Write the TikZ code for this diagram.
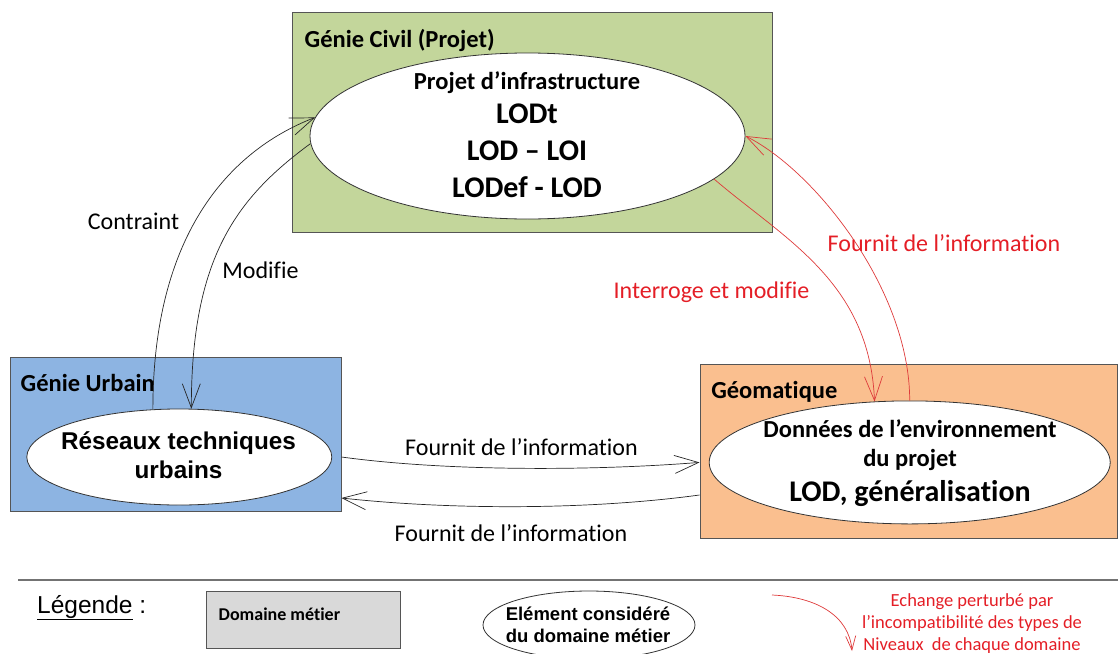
\documentclass[tikz,border=0pt]{standalone}
\usepackage{fontspec}
\setmainfont{Carlito}[Ligatures={TeX,NoCommon}]
\newfontfamily\arialfont{Liberation Sans}
\usetikzlibrary{arrows.meta,shapes.geometric,calc}
\definecolor{civilgreen}{RGB}{195,214,155}
\definecolor{urbanblue}{RGB}{141,180,226}
\definecolor{geoorange}{RGB}{250,191,143}
\definecolor{legendgray}{RGB}{217,217,217}
\definecolor{boxline}{RGB}{85,85,85}
\definecolor{redline}{RGB}{222,58,58}
\definecolor{redtext}{RGB}{228,30,38}
\tikzset{
  domaine/.style={draw=boxline, line width=1pt, inner sep=0pt},
  element/.style={draw=black!80, ellipse, fill=white, line width=0.8pt, inner sep=0pt},
  titre/.style={anchor=west, inner sep=0pt, font=\fontsize{24.5}{29}\selectfont\bfseries},
  etiq/.style={inner sep=0pt, font=\fontsize{24}{29}\selectfont},
  lien/.style={-{Straight Barb[length=24pt,width=18pt]}, line width=0.7pt, black!85},
  lienrouge/.style={lien, draw=redline}
}

\begin{document}
\begin{tikzpicture}[x=1pt, y=-1pt]
  \useasboundingbox (0,0) rectangle (1118,653);
  % domaines
  \node[domaine, fill=civilgreen, minimum width=480pt, minimum height=220pt] (civBox) at (532,122) {};
  \node[domaine, fill=urbanblue, minimum width=331pt, minimum height=154pt] (urbBox) at (175.5,434) {};
  \node[domaine, fill=geoorange, minimum width=417pt, minimum height=174pt] (geoBox) at (908.5,451) {};
  \node[titre] (civTitle) at ([xshift=13pt, yshift=-29pt]civBox.north west) {Génie Civil (Projet)};
  \node[titre] (urbTitle) at ([xshift=11pt, yshift=-26pt]urbBox.north west) {Génie Urbain};
  \node[titre] (geoTitle) at ([xshift=11.6pt, yshift=-28pt]geoBox.north west) {Géomatique};
  % elements
  \node[element, minimum width=435pt, minimum height=166pt] (civEll) at (527.5,136) {};
  \node[element, minimum width=305pt, minimum height=96pt] (urbEll) at (179.3,457) {};
  \node[element, minimum width=401pt, minimum height=123pt] (geoEll) at (909.7,462.4) {};
  \node[align=center, inner sep=0pt, font=\fontsize{30}{37}\selectfont\bfseries] (civTxt) at (527,134.5)
    {{\fontsize{24.5}{29}\selectfont Projet d’infrastructure}\\[-2.5pt] LODt\\ LOD – LOI\\ LODef - LOD};
  \node[align=center, inner sep=0pt, font=\arialfont\fontsize{24.3}{29}\selectfont\bfseries] (urbTxt) at (178.5,455.5)
    {Réseaux techniques\\ urbains};
  \node[align=center, inner sep=0pt, font=\fontsize{24.5}{28.5}\selectfont\bfseries] (geoTxt) at (910,463)
    {Données de l’environnement\\ du projet\\[6.5pt] {\fontsize{30}{36}\selectfont LOD, généralisation}};
  % liens
  \draw[lien] (urbEll.119) .. controls +(0,-170) and +(-90,35) .. (civEll.175);
  \draw[lien] (civEll.182) .. controls +(-75,55) and +(0,-150) .. (urbEll.76);
  \draw[lienrouge] (civEll.347) .. controls +(70,60) and +(-5,-120) .. (geoEll.120);
  \draw[lienrouge] (geoEll.90) .. controls +(0,-110) and +(70,35) .. (civEll.0);
  \draw[lien] (urbBox.east |- urbEll.center) .. controls +(110,15) and +(-100,8) .. (geoBox.west |- geoEll.center);
  \draw[lien] ([yshift=-44pt]geoBox.west) .. controls +(-110,15) and +(110,12) .. ([yshift=-64pt]urbBox.east);
  \node[etiq] (lblContraint) at (133.5,221) {Contraint};
  \node[etiq] (lblModifie) at (260.5,270) {Modifie};
  \node[etiq, text=redtext] (lblFournitRouge) at (944,243.6) {Fournit de l’information};
  \node[etiq, text=redtext] (lblInterroge) at (711.5,292) {Interroge et modifie};
  \node[etiq] (lblFournitHaut) at (521.5,447) {Fournit de l’information};
  \node[etiq] (lblFournitBas) at (511,533) {Fournit de l’information};
  % legende
  \coordinate (sepA) at (18,580);
  \coordinate (sepB) at (1118,580);
  \draw[line width=1.5pt, black!55] (sepA) -- (sepB);
  \node[anchor=base west, inner sep=0pt, font=\arialfont\fontsize{24.5}{29}\selectfont] (legTitle) at (37,613) {\underline{Légende} :};
  \node[domaine, fill=legendgray, minimum width=194pt, minimum height=57pt] (legDomain) at (303,619.5) {};
  \node[anchor=base west, inner sep=0pt, font=\fontsize{18}{22}\selectfont\bfseries] (legDomainTxt) at ([xshift=13pt, yshift=-1pt]legDomain.west) {Domaine métier};
  \node[element, minimum width=212pt, minimum height=68pt] (legEll) at (589,625) {};
  \node[align=center, inner sep=0pt, font=\arialfont\fontsize{18.5}{22}\selectfont\bfseries] (legEllTxt) at (588,624.6)
    {Elément considéré\\ du domaine métier};
  \coordinate (legArrA) at (772,595);
  \coordinate (legArrB) at (852,651);
  \draw[lienrouge, -{Straight Barb[length=14pt,width=10pt]}] (legArrA) .. controls +(45,2) and +(-3,-35) .. (legArrB);
  \node[align=center, inner sep=0pt, text=redtext, font=\fontsize{18.5}{22}\selectfont] (legArrTxt) at (972,623.5)
    {Echange perturbé par\\ l’incompatibilité des types de\\ Niveaux\ \ de chaque domaine};
\end{tikzpicture}
\end{document}
